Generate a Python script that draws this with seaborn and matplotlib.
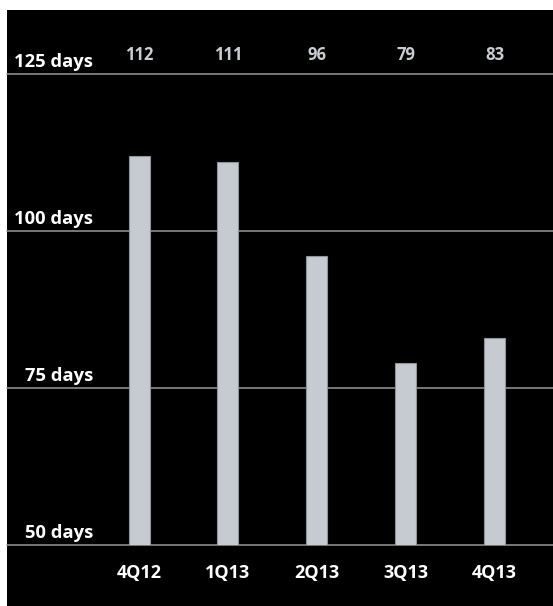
import matplotlib
matplotlib.use("Agg")
import matplotlib.pyplot as plt
from matplotlib.patches import Rectangle
from matplotlib import transforms
import seaborn as sns
import pandas as pd

# Average days per quarter
quarters = ["4Q12", "1Q13", "2Q13", "3Q13", "4Q13"]
days = [112, 111, 96, 79, 83]
gridlines = [50, 75, 100, 125]
grid_labels = ["50 days", "75 days", "100 days", "125 days"]

df = pd.DataFrame({"quarter": quarters, "days": days})

sns.set_theme(style="white")
plt.rcParams["font.family"] = ["Open Sans", "DejaVu Sans"]

W, H = 553, 606
fig = plt.figure(figsize=(W / 100, H / 100), dpi=100, facecolor="white")

# black panel behind everything (leaves a thin white strip top and left)
fig.patches.append(Rectangle((7 / W, 0), 1 - 7 / W, (H - 10) / H,
                             transform=fig.transFigure, facecolor="black",
                             edgecolor="none", zorder=-10))

ax = fig.add_axes([7 / W, (H - 544.5) / H, 1 - 7 / W, (544.5 - 10) / H])
ax.set_facecolor("black")

bar_color = "#c5cbd1"
sns.barplot(data=df, x="quarter", y="days", color=bar_color, width=0.236,
            edgecolor="#8e949a", linewidth=0.8, saturation=1, ax=ax, zorder=3)

ax.set_ylim(50, 135.25)
ax.set_xlim(-1.485, 4.656)

for s in ax.spines.values():
    s.set_visible(False)

# horizontal reference lines
for g in gridlines:
    ax.axhline(g, color="#8c8c8c", linewidth=1.2, zorder=1, clip_on=False)

# grid labels sit just above their lines, right-aligned
ylab_tr = transforms.offset_copy(ax.get_yaxis_transform(), fig=fig, x=0, y=5, units="points")
for g, lab in zip(gridlines, grid_labels):
    ax.text(0.1575, g, lab, transform=ylab_tr, ha="right", va="baseline",
            color="white", fontsize=13.2, fontweight="bold", zorder=4)

# value labels in a row across the top
top_tr = ax.get_xaxis_transform()
for i, v in enumerate(days):
    ax.text(i, 0.9167, str(v), transform=top_tr, ha="center", va="center",
            color="#c9cdd1", fontsize=12, fontweight="bold", zorder=4)

ax.set_yticks([])
ax.set_xlabel("")
ax.set_ylabel("")
ax.tick_params(axis="x", length=0, pad=14, labelsize=13, labelcolor="white")
for t in ax.get_xticklabels():
    t.set_fontweight("bold")

fig.savefig("out.png", dpi=100, facecolor=fig.get_facecolor())
